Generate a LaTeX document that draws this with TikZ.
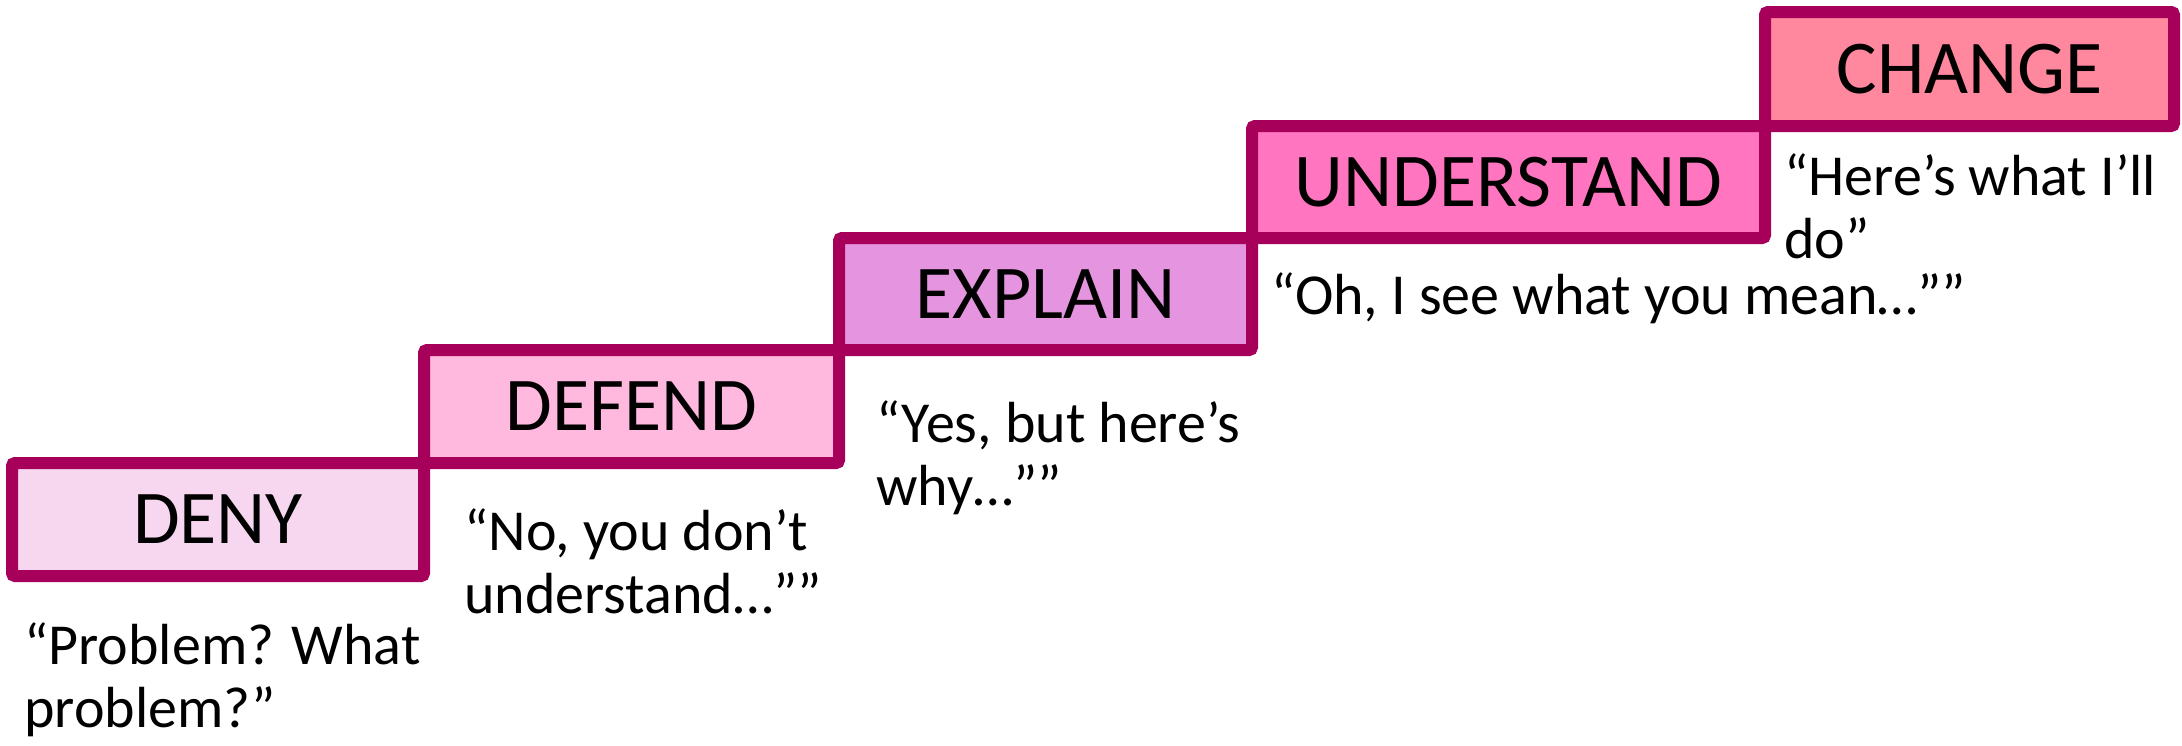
\documentclass[tikz,border=0pt]{standalone}
\usepackage{fontspec}
\setmainfont{Carlito}
\definecolor{stepline}{HTML}{A6005A}
\definecolor{denyfill}{HTML}{F7D7F0}
\definecolor{defendfill}{HTML}{FFB8DE}
\definecolor{explainfill}{HTML}{E595DF}
\definecolor{understandfill}{HTML}{FF75BF}
\definecolor{changefill}{HTML}{FF879E}
\tikzset{
  stepbox/.style={draw=stepline, line width=6pt, rounded corners=1.5pt,
    inner sep=0pt, font=\fontsize{38}{44}\selectfont, text=black},
  % anchored at the baseline of the last line
  quote/.style={anchor=base west, inner sep=0pt, align=left,
    font=\fontsize{29}{31.5}\selectfont, text=black}
}
\begin{document}
\begin{tikzpicture}[x=0.5pt, y=-0.5pt]
  \useasboundingbox (0,0) rectangle (2182,745);
  % staircase of stages, lowest first
  \node[stepbox, fill=denyfill, minimum width=206pt, minimum height=56.5pt] (deny) at (218,519.5) {DENY};
  \node[stepbox, fill=defendfill, minimum width=207.5pt, minimum height=56.5pt] (defend) at (631.5,406.5) {DEFEND};
  \node[stepbox, fill=explainfill, minimum width=206.5pt, minimum height=56pt] (explain) at (1045.5,294) {EXPLAIN};
  \node[stepbox, fill=understandfill, minimum width=256.5pt, minimum height=56pt] (understand) at (1508.5,182) {UNDERSTAND};
  \node[stepbox, fill=changefill, minimum width=204.5pt, minimum height=57pt] (change) at (1969.5,69) {CHANGE};
  % what is said at each stage
  \node[quote] (qdeny) at (24,727) {“Problem? What\\problem?”};
  \node[quote] (qdefend) at (464,613) {“No, you don’t\\understand…””};
  \node[quote] (qexplain) at (876,505) {“Yes, but here’s\\why…””};
  \node[quote] (qunderstand) at (1271,314) {“Oh, I see what you mean…””};
  \node[quote] (qchange) at (1784,258) {“Here’s what I’ll\\do”};
\end{tikzpicture}
\end{document}
